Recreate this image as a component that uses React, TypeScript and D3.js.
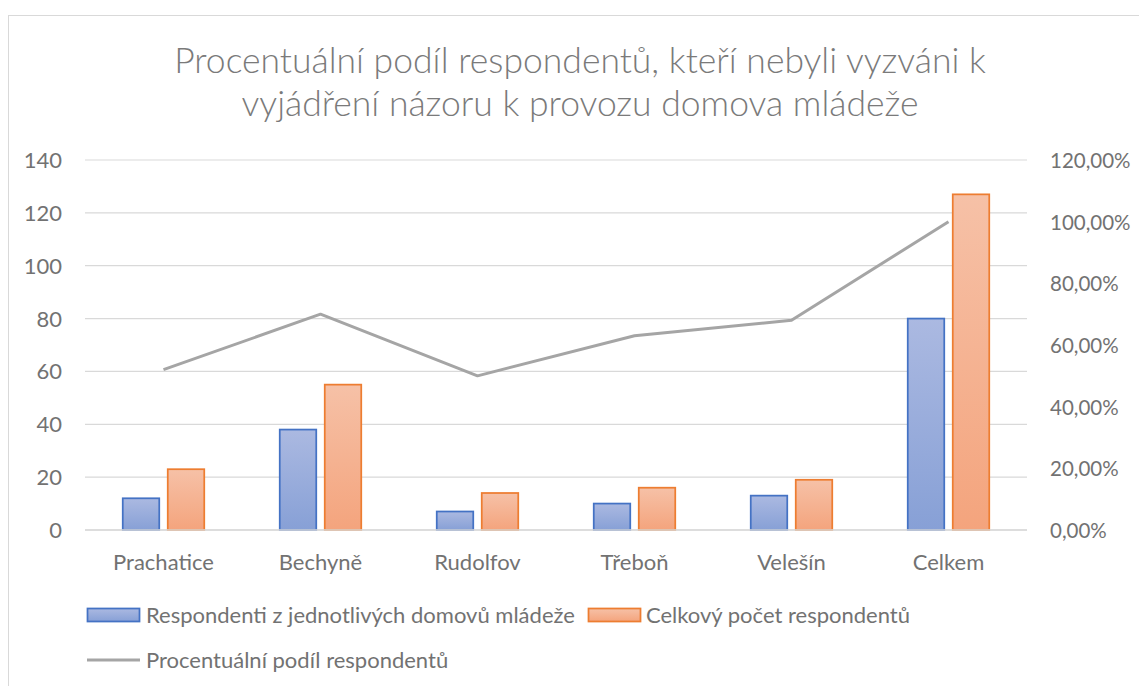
import React from "react";
import * as d3 from "d3";

const categories = ["Prachatice", "Bechyně", "Rudolfov", "Třeboň", "Velešín", "Celkem"];
const respondentiDomovu = [12, 38, 7, 10, 13, 80];
const celkovyPocet = [23, 55, 14, 16, 19, 127];
const procentualniPodil = [0.52, 0.70, 0.50, 0.63, 0.68, 1.0];
const leftTicks = [0, 20, 40, 60, 80, 100, 120, 140];
const rightTicks = [0, 0.2, 0.4, 0.6, 0.8, 1.0, 1.2];
const titleLines = [
  "Procentuální podíl respondentů, kteří nebyli vyzváni k",
  "vyjádření názoru k provozu domova mládeže",
];
const seriesNames = [
  "Respondenti z jednotlivých domovů mládeže",
  "Celkový počet respondentů",
  "Procentuální podíl respondentů",
];

const W = 1139;
const H = 686;
const FONT = "Lato, 'Open Sans', sans-serif";
const TEXT = "#727272";

export default function App() {
  const plotL = 85, plotR = 1027, plotT = 160, plotB = 530;
  const x = d3.scaleBand<string>().domain(categories).range([plotL, plotR]);
  const yL = d3.scaleLinear().domain([0, 140]).range([plotB, plotT]);
  const yR = d3.scaleLinear().domain([0, 1.2]).range([plotB, plotT]);
  const barW = 36.5;
  const gap = 8.5;
  const fmtPct = (v: number) => (v * 100).toFixed(2).replace(".", ",") + "%";
  const line = d3
    .line<number>()
    .x((_, i) => (x(categories[i]) as number) + x.bandwidth() / 2)
    .y((d) => yR(d));

  return (
    <svg
      width={W}
      height={H}
      style={{ position: "absolute", left: 0, top: 0, background: "#fff" }}
      fontFamily={FONT}
    >
      <defs>
        <linearGradient id="gBlue" x1="0" y1="0" x2="0" y2="1">
          <stop offset="0" stopColor="#abb9e1" />
          <stop offset="1" stopColor="#87a0d6" />
        </linearGradient>
        <linearGradient id="gOrange" x1="0" y1="0" x2="0" y2="1">
          <stop offset="0" stopColor="#f6c1a7" />
          <stop offset="1" stopColor="#f4a47d" />
        </linearGradient>
      </defs>
      <rect x={8.5} y={15.5} width={1145} height={700} fill="#fff" stroke="#d9d9d9" strokeWidth={1} />

      {titleLines.map((t, i) => (
        <text
          key={i}
          x={580}
          y={73 + i * 43}
          textAnchor="middle"
          fontSize={35.5}
          fontWeight={300}
          fill="#7a7a7a"
        >
          {t}
        </text>
      ))}

      {leftTicks.map((t) => (
        <line key={"g" + t} x1={plotL} x2={plotR} y1={yL(t)} y2={yL(t)} stroke="#d9d9d9" strokeWidth={1.2} />
      ))}

      {categories.map((c, i) => {
        const cx = (x(c) as number) + x.bandwidth() / 2;
        return (
          <g key={c}>
            <rect
              x={cx - gap / 2 - barW}
              y={yL(respondentiDomovu[i])}
              width={barW}
              height={plotB - yL(respondentiDomovu[i])}
              fill="url(#gBlue)"
              stroke="#4472c4"
              strokeWidth={1.75}
            />
            <rect
              x={cx + gap / 2}
              y={yL(celkovyPocet[i])}
              width={barW}
              height={plotB - yL(celkovyPocet[i])}
              fill="url(#gOrange)"
              stroke="#ed7d31"
              strokeWidth={1.75}
            />
            <text x={cx} y={570} textAnchor="middle" fontSize={22} fill={TEXT}>
              {c}
            </text>
          </g>
        );
      })}

      <line x1={plotL} x2={plotR} y1={plotB} y2={plotB} stroke="#d9d9d9" strokeWidth={1.5} />

      <path d={line(procentualniPodil) || ""} fill="none" stroke="#a5a5a5" strokeWidth={3} strokeLinejoin="round" />

      {leftTicks.map((t) => (
        <text key={"l" + t} x={62} y={yL(t) + 8} textAnchor="end" fontSize={22} fill={TEXT}>
          {t}
        </text>
      ))}
      {rightTicks.map((t) => (
        <text key={"r" + t} x={1050} y={yR(t) + 8} textAnchor="start" fontSize={20.5} fill={TEXT}>
          {fmtPct(t)}
        </text>
      ))}

      <rect x={87.5} y={608.5} width={52} height={13} fill="url(#gBlue)" stroke="#4472c4" strokeWidth={1.75} />
      <text x={146} y={623} fontSize={22} fill={TEXT}>{seriesNames[0]}</text>
      <rect x={588.5} y={608.5} width={52} height={13} fill="url(#gOrange)" stroke="#ed7d31" strokeWidth={1.75} />
      <text x={646} y={623} fontSize={22} fill={TEXT}>{seriesNames[1]}</text>
      <line x1={87} x2={140} y1={660} y2={660} stroke="#a5a5a5" strokeWidth={3} />
      <text x={146} y={668} fontSize={22} fill={TEXT}>{seriesNames[2]}</text>
    </svg>
  );
}
